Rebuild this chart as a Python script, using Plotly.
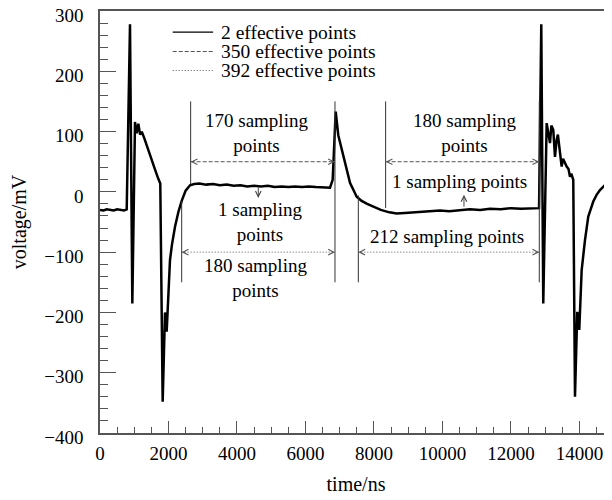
import plotly.graph_objects as go

# ---------------- data ----------------
time_ns = [0, 100, 200, 300, 400, 500, 600, 700, 780,
           876, 944, 1022, 1070, 1120, 1170, 1220, 1300, 1400, 1500, 1600, 1700, 1760,
           1830, 1898, 1947, 1990, 2044, 2100, 2190, 2290, 2386, 2500, 2628, 2750,
           2900, 3100, 3300, 3500, 3700, 3900, 4100, 4300, 4500, 4700, 4900, 5100,
           5300, 5500, 5700, 5900, 6100, 6300, 6500, 6716, 6794,
           6882, 6958, 7104, 7200, 7300, 7495, 7640, 7800, 7980, 8200, 8450, 8663,
           8900, 9200, 9500, 9928, 10200, 10500, 10800, 11100, 11388, 11700, 12000,
           12300, 12600, 12820,
           12885, 12943, 13042, 13090, 13139, 13180, 13235, 13285, 13330, 13370, 13410,
           13440, 13480, 13520, 13570, 13626, 13680, 13723, 13760, 13819,
           13869, 13936, 13994, 14064, 14161, 14257, 14403, 14500, 14599, 14700, 14794, 14870, 14949]
voltage_mV = [-30, -31, -29, -30, -31, -29, -30, -31, -29,
              278, -185, 116, 97, 113, 95, 100, 88, 70, 53, 38, 22, 14,
              -348, -200, -232, -175, -113, -88, -58, -33, -15, 2, 11, 13,
              14, 12, 13, 11, 12, 10, 11, 9, 10, 9, 10, 8,
              9, 8, 9, 8, 9, 8, 8, 7, 20,
              133, 94, 58, 35, 15, -8, -15, -20, -25, -30, -34, -36,
              -35, -34, -33, -31, -32, -30, -29, -30, -28, -29, -27,
              -28, -27, -27,
              278, -185, 114, 100, 81, 110, 103, 58, 85, 95, 75,
              60, 42, 55, 48, 42, 38, 25, 30, 20,
              -340, -199, -229, -130, -80, -41, -16, -5, 3, 8, 14, 13, 20]

# vertical marker lines: (x, y_top, y_bottom)
marker_x = [2647, 2385, 6861, 7543, 8340, 12827]
marker_top = [150, -15, 150, -6, 150, 150]
marker_bottom = [13, -150, -150, -150, -27, -150]

# dashed spans (350 effective points) and dotted spans (392 effective points)
dashed_start = [2647, 8340]
dashed_end = [6861, 12827]
dashed_level = 50
dotted_start = [2385, 7543]
dotted_end = [6861, 12827]
dotted_level = -100

# small pointer arrows: (x, tail_y, head_y)
pointer_x = [4622, 10628]
pointer_tail = [10, -27]
pointer_head = [-10, -5]

# text labels
label_text = ["170 sampling<br>points", "180 sampling<br>points", "1 sampling<br>points",
              "180 sampling<br>points", "1 sampling points", "212 sampling points"]
label_x = [4555, 10634, 4672, 4550, 10497, 10123]
label_y = [98, 98, -50, -143, 17, -74]

legend_names = ["2 effective points", "350 effective points", "392 effective points"]

x_ticks = [0, 2000, 4000, 6000, 8000, 10000, 12000, 14000]
y_ticks = [300, 200, 100, 0, -100, -200, -300, -400]

# ---------------- figure ----------------
FONT = "Liberation Serif, Times New Roman, serif"
fig = go.Figure()

fig.add_trace(go.Scatter(x=time_ns, y=voltage_mV, mode="lines",
                         line=dict(color="black", width=2.5), showlegend=False,
                         hoverinfo="skip"))

for xv, yt, yb in zip(marker_x, marker_top, marker_bottom):
    fig.add_trace(go.Scatter(x=[xv, xv], y=[yt, yb], mode="lines",
                             line=dict(color="#333333", width=1), showlegend=False))

for xs, xe in zip(dashed_start, dashed_end):
    fig.add_trace(go.Scatter(x=[xs, xe], y=[dashed_level, dashed_level], mode="lines",
                             line=dict(color="#555555", width=1, dash="4px,2px"),
                             showlegend=False))
for xs, xe in zip(dotted_start, dotted_end):
    fig.add_trace(go.Scatter(x=[xs, xe], y=[dotted_level, dotted_level], mode="lines",
                             line=dict(color="#555555", width=1, dash="1px,2px"),
                             showlegend=False))

annotations = []
head_eps = 120
def head(xh, yh, xt, yt):
    annotations.append(dict(x=xh, y=yh, ax=xt, ay=yt, xref="x", yref="y",
                            axref="x", ayref="y", text="", showarrow=True,
                            arrowhead=5, arrowsize=1.1, arrowwidth=1,
                            arrowcolor="#555555", standoff=0, startstandoff=0))

for xs, xe in zip(dashed_start, dashed_end):
    head(xs, dashed_level, xs + head_eps, dashed_level)
    head(xe, dashed_level, xe - head_eps, dashed_level)
for xs, xe in zip(dotted_start, dotted_end):
    head(xs, dotted_level, xs + head_eps, dotted_level)
    head(xe, dotted_level, xe - head_eps, dotted_level)
for xv, yt, yh in zip(pointer_x, pointer_tail, pointer_head):
    annotations.append(dict(x=xv, y=yh, ax=xv, ay=yt, xref="x", yref="y",
                            axref="x", ayref="y", text="", showarrow=True,
                            arrowhead=5, arrowsize=1.1, arrowwidth=1,
                            arrowcolor="#444444", standoff=0, startstandoff=0))

for t, xv, yv in zip(label_text, label_x, label_y):
    annotations.append(dict(x=xv, y=yv, xref="x", yref="y", text=t, showarrow=False,
                            font=dict(family=FONT, size=19, color="black"),
                            xanchor="center", yanchor="middle"))

# manual legend
leg_y = [0.950, 0.904, 0.859]
leg_dash = ["solid", "4px,2px", "1px,2px"]
leg_col = ["black", "#555555", "#555555"]
shapes = []
for name, yy, dsh, col in zip(legend_names, leg_y, leg_dash, leg_col):
    shapes.append(dict(type="line", xref="paper", yref="paper", x0=0.142, x1=0.221,
                       y0=yy, y1=yy, line=dict(color=col, width=1.2, dash=dsh)))
    annotations.append(dict(x=0.232, y=yy, xref="paper", yref="paper", text=name,
                            showarrow=False, xanchor="left", yanchor="middle",
                            font=dict(family=FONT, size=19.5, color="black")))

# page body adds an 8px offset; figure is sized to fit inside the window
fig.update_layout(
    width=604, height=492,
    margin=dict(l=92, r=0, t=3, b=67, autoexpand=False),
    paper_bgcolor="white", plot_bgcolor="white",
    font=dict(family=FONT, size=19, color="black"),
    showlegend=False,
    annotations=annotations, shapes=shapes,
    xaxis=dict(range=[0, 14950], tickvals=x_ticks, ticktext=[str(v) for v in x_ticks],
               ticks="inside", ticklen=12, tickwidth=1, tickcolor="#555555",
               minor=dict(ticks="inside", ticklen=6, dtick=500, tickcolor="#555555", tickwidth=1),
               showline=True, linecolor="#555555", linewidth=1.5, mirror=True,
               showgrid=False, zeroline=False, ticklabelstandoff=2, automargin=False,
               ticklabeloverflow="allow",
               title=dict(text="time/ns", font=dict(family=FONT, size=20), standoff=14)),
    yaxis=dict(range=[-400, 300], tickvals=y_ticks,
               ticks="inside", ticklen=16, tickwidth=1, tickcolor="#555555",
               minor=dict(ticks="inside", ticklen=8, dtick=20, tickcolor="#555555", tickwidth=1),
               showline=True, linecolor="#555555", linewidth=1.5, mirror=False,
               showgrid=False, zeroline=False, ticklabelstandoff=11, automargin=False,
               ticklabeloverflow="allow", ticklabelshift=4,
               title=dict(text="voltage/mV", font=dict(family=FONT, size=20), standoff=12)),
)

fig.write_html("out.html")
